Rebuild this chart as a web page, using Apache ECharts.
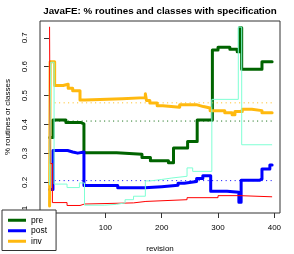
<!DOCTYPE html>
<html><head><meta charset="utf-8">
<script src="https://cdn.jsdelivr.net/npm/echarts@6/dist/echarts.min.js"></script>
<style>html,body{margin:0;padding:0;background:#fff}#c{width:294px;height:254px}</style>
</head><body><div id="c"></div>
<script>
// ---- data ----
const titleText = 'JavaFE: % routines and classes with specification';
const xTicks = [0, 100, 200, 300, 400];
const xLabels = [100, 200, 300, 400];
const yTicks = [0.1, 0.2, 0.3, 0.4, 0.5, 0.6, 0.7];
const legendNames = ['pre', 'post', 'inv'];

const preRev = [1, 7, 30, 56, 62, 120, 165, 180, 212, 221, 246, 263, 290, 300, 321, 334, 338, 342, 378, 396];
const preVal = [0.355, 0.416, 0.407, 0.402, 0.302, 0.297, 0.286, 0.275, 0.268, 0.319, 0.341, 0.416, 0.658, 0.667, 0.660, 0.652, 0.735, 0.591, 0.617, 0.617];

const postRev = [1, 7, 33, 42, 51, 62, 122, 170, 200, 229, 240, 262, 273, 287, 316, 337, 341, 374, 378, 392, 396];
const postVal = [0.175, 0.31, 0.305, 0.301, 0.305, 0.189, 0.181, 0.185, 0.19, 0.197, 0.203, 0.213, 0.223, 0.169, 0.166, 0.131, 0.207, 0.212, 0.246, 0.26, 0.26];

const invRev = [1, 2, 10, 25, 34, 42, 55, 64, 130, 171, 173, 179, 192, 202, 232, 263, 274, 286, 312, 325, 330, 343, 360, 378, 396];
const invVal = [0.118, 0.617, 0.535, 0.539, 0.525, 0.517, 0.485, 0.489, 0.493, 0.506, 0.483, 0.474, 0.465, 0.46, 0.468, 0.462, 0.457, 0.448, 0.441, 0.434, 0.445, 0.453, 0.448, 0.441, 0.441];

const redRev = [1, 2, 6, 32, 55, 63, 150, 172, 245, 300, 339, 342, 396];
const redVal = [0.738, 0.265, 0.13, 0.12, 0.125, 0.129, 0.134, 0.14, 0.147, 0.154, 0.16, 0.15, 0.15];

const aquaRev = [1, 3, 9, 32, 54, 63, 99, 120, 135, 150, 171, 180, 200, 218, 245, 255, 289, 336, 342, 396];
const aquaVal = [0.19, 0.615, 0.194, 0.182, 0.198, 0.121, 0.124, 0.129, 0.14, 0.152, 0.205, 0.21, 0.215, 0.221, 0.25, 0.238, 0.487, 0.737, 0.33, 0.33];

const meanRev = [10, 396];
const preMean = 0.412;
const postMean = 0.206;
const invMean = 0.475;

// ---- chart ----
const FONT = 'Liberation Sans, Arial, sans-serif';
function pairs(r, v) { return r.map((x, i) => [x, v[i]]); }
function flat(r, c) { return r.map(x => [x, c]); }

function thick(name, color, data) {
  return { name, type: 'line', step: 'end', data, color, showSymbol: false, symbol: 'none',
    lineStyle: { width: 3, color, cap: 'round', join: 'round' }, z: 2 };
}
function thin(name, color, data) {
  return { name, type: 'line', step: 'end', data, color, showSymbol: false, symbol: 'none',
    lineStyle: { width: 1, color }, z: 3 };
}
function dotted(name, color, data) {
  return { name, type: 'line', data, color, showSymbol: false, symbol: 'none',
    lineStyle: { width: 1, color, type: [1, 3.5] }, z: 2 };
}

const chart = echarts.init(document.getElementById('c'), null, { renderer: 'canvas' });
chart.setOption({
  animation: false,
  backgroundColor: '#fff',
  textStyle: { fontFamily: FONT },
  title: {
    text: titleText, left: 160, top: 6, padding: 0, textAlign: 'center',
    textStyle: { fontFamily: FONT, fontSize: 9.8, fontWeight: 'bold', color: '#000' }
  },
  grid: { left: 40, right: 14, top: 21, bottom: 41, containLabel: false, outerBoundsMode: 'none',
    show: true, borderColor: '#333', borderWidth: 1, backgroundColor: 'transparent' },
  legend: {
    data: legendNames, orient: 'vertical', left: 2, top: 210,
    padding: [5, 9, 4, 6], itemGap: 0, itemWidth: 18, itemHeight: 3, icon: 'rect',
    backgroundColor: '#fff', borderColor: '#333', borderWidth: 1, borderRadius: 0,
    textStyle: { fontFamily: FONT, fontSize: 8.5, color: '#000', lineHeight: 10.5 }
  },
  xAxis: {
    type: 'value', min: -16, max: 410,
    name: 'revision', nameLocation: 'middle', nameGap: 32,
    nameTextStyle: { fontFamily: FONT, fontSize: 8, color: '#000' },
    axisLine: { show: false }, splitLine: { show: false },
    axisTick: { show: true, inside: false, length: 5, customValues: xTicks, lineStyle: { color: '#333' } },
    axisLabel: { customValues: xLabels, margin: 11, fontSize: 8, color: '#000', fontFamily: FONT }
  },
  yAxis: {
    type: 'value', min: 0.094, max: 0.758,
    name: '% routines or classes', nameLocation: 'middle', nameGap: 28,
    nameTextStyle: { fontFamily: FONT, fontSize: 8, color: '#000' },
    axisLine: { show: false }, splitLine: { show: false },
    axisTick: { show: true, inside: false, length: 5, customValues: yTicks, lineStyle: { color: '#333' } },
    axisLabel: { customValues: yTicks, rotate: 90, margin: 11, fontSize: 8, color: '#000', fontFamily: FONT,
      formatter: v => v.toFixed(1) }
  },
  series: [
    thick('pre', '#006400', pairs(preRev, preVal)),
    thick('post', '#0000ff', pairs(postRev, postVal)),
    thick('inv', '#ffb90f', pairs(invRev, invVal)),
    dotted('pre mean', '#006400', flat(meanRev, preMean)),
    dotted('post mean', '#0000ff', flat(meanRev, postMean)),
    dotted('inv mean', '#ffb90f', flat(meanRev, invMean)),
    thin('classes a', '#ff0000', pairs(redRev, redVal)),
    thin('classes b', '#7fffd4', pairs(aquaRev, aquaVal))
  ]
});
</script></body></html>
